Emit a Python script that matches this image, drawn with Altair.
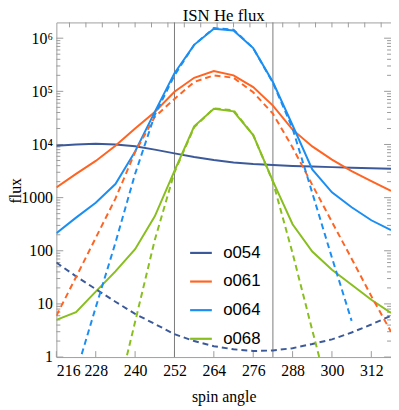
import altair as alt
import pandas as pd

# ---------------- data ----------------
angles = [216, 222, 228, 234, 240, 246, 252, 258, 264, 270, 276, 282, 288, 294, 300, 306, 312, 318]

o054_solid = [9500, 10000, 10300, 10000, 9300, 8000, 6800, 5800, 5100, 4600, 4300, 4100, 3950, 3850, 3750, 3650, 3580, 3500]
o054_dashed = [60, 33, 19, 11, 6.5, 4.2, 2.7, 2.0, 1.6, 1.4, 1.3, 1.33, 1.47, 1.76, 2.15, 2.9, 4.1, 6.0]

o061_solid = [1560, 2800, 4900, 9500, 20000, 41000, 98000, 180000, 240000, 200000, 120000, 54000, 19000, 9200, 5200, 3150, 2050, 1340]
o061_dashed = [6, 32, 175, 960, 7200, 33000, 72000, 150000, 200000, 180000, 96000, 38000, 8800, 1740, 350, 71, 14, 3.0]

o064_solid = [215, 420, 800, 1800, 7400, 41000, 220000, 750000, 1500000, 1400000, 650000, 150000, 23000, 3400, 1260, 660, 375, 245]
o064_dashed_angles = [222, 228, 234, 240, 246, 252, 258, 264, 270, 276, 282, 288, 294, 300, 306]
o064_dashed = [0.5, 8.6, 141, 2800, 36000, 200000, 750000, 1550000, 1450000, 650000, 145000, 20000, 1230, 74, 4.8]

o068_solid = [5.0, 7.0, 17, 41, 107, 445, 3200, 22000, 47000, 42000, 15000, 2050, 316, 97, 44, 23, 12, 6.8]
o068_dashed_angles = [234, 240, 246, 252, 258, 264, 270, 276, 282, 288, 294, 300]
o068_dashed = [0.135, 4.6, 160, 3000, 21000, 48000, 44000, 15000, 2000, 90, 3.2, 0.12]

series_names = ["o054", "o061", "o064", "o068"]
series_colors = ["#3C5A9A", "#FF6422", "#1A8EF2", "#88BE1E"]

chart_title = "ISN He flux"
x_labels = [216, 228, 240, 252, 264, 276, 288, 300, 312]
top_ticks = [220, 225, 230, 235, 240, 245, 250, 255, 260, 265, 270, 275, 280, 285, 290, 295, 300, 305, 310, 315]
y_major = [1, 10, 100, 1000, 10000, 100000, 1000000]
y_minor = [m * 10 ** k for k in range(6) for m in range(2, 10)]
marker_lines = [252, 282]

# ---------------- tables ----------------
solid_rows = []
for name, vals in zip(series_names, [o054_solid, o061_solid, o064_solid, o068_solid]):
    for a, v in zip(angles, vals):
        solid_rows.append({"a": a, "v": v, "s": name})
solid_df = pd.DataFrame(solid_rows)

dashed_rows = []
for name, angs, vals in zip(series_names,
                            [angles, angles, o064_dashed_angles, o068_dashed_angles],
                            [o054_dashed, o061_dashed, o064_dashed, o068_dashed]):
    for a, v in zip(angs, vals):
        dashed_rows.append({"a": a, "v": v, "s": name})
dashed_df = pd.DataFrame(dashed_rows)

W, H = 339, 339
SERIF = "Liberation Serif"

xs = alt.Scale(domain=[216, 318], nice=False, zero=False)
ys = alt.Scale(type="log", domain=[1, 1.98e6], nice=False)

x_axis = alt.Axis(values=x_labels, title="spin angle", ticks=False, domain=False, grid=False,
                  labelPadding=6, labelFontSize=16, labelFont=SERIF, labelColor="black",
                  titleFont=SERIF, titleFontSize=16, titleFontWeight="normal", titleColor="black",
                  titleY=32, labelOverlap=False)
y_axis = alt.Axis(values=y_major, title="flux", ticks=False, domain=False, grid=False,
                  labelPadding=4, labelFontSize=16, labelFont=SERIF, labelColor="black",
                  labelExpr="datum.value >= 900000 ? '10⁶' : datum.value >= 90000 ? '10⁵' : datum.value >= 9000 ? '10⁴' : format(datum.value, 'd')",
                  titleFont=SERIF, titleFontSize=16, titleFontWeight="normal", titleColor="black",
                  titleX=-33, titleY=170, labelOverlap=False)


def X(field="a"):
    return alt.X(f"{field}:Q", scale=xs, axis=x_axis)


def Y(field="v"):
    return alt.Y(f"{field}:Q", scale=ys, axis=y_axis)


color_scale = alt.Scale(domain=series_names, range=series_colors)
legend = alt.Legend(orient="none", legendX=134, legendY=221, title=None,
                    symbolType="stroke", symbolSize=484, symbolStrokeWidth=2.2,
                    labelFont="Liberation Sans", labelFontSize=17, labelColor="black",
                    labelOffset=10, rowPadding=8, padding=0, labelLimit=200)

solid = alt.Chart(solid_df).mark_line(strokeWidth=2, clip=True).encode(
    x=X(), y=Y(), color=alt.Color("s:N", scale=color_scale, legend=legend, sort=series_names)
)
dashed = alt.Chart(dashed_df).mark_line(strokeWidth=2, strokeDash=[6, 4], clip=True).encode(
    x=X(), y=Y(), color=alt.Color("s:N", scale=color_scale, legend=None, sort=series_names)
)

vlines = alt.Chart(pd.DataFrame({"a": marker_lines})).mark_rule(color="#7a7a7a", strokeWidth=1).encode(
    x=X(), y=alt.value(0), y2=alt.value(H)
)

tick_color = "#9a9a9a"
ymaj_df = pd.DataFrame({"v": y_major})
ymin_df = pd.DataFrame({"v": y_minor})
left_major = alt.Chart(ymaj_df).mark_rule(color=tick_color).encode(y=Y(), x=alt.value(0), x2=alt.value(7))
left_minor = alt.Chart(ymin_df).mark_rule(color=tick_color).encode(y=Y(), x=alt.value(0), x2=alt.value(4))
right_major = alt.Chart(ymaj_df).mark_rule(color=tick_color).encode(y=Y(), x=alt.value(W), x2=alt.value(W - 7))
right_minor = alt.Chart(ymin_df).mark_rule(color=tick_color).encode(y=Y(), x=alt.value(W), x2=alt.value(W - 4))
bottom_ticks = alt.Chart(pd.DataFrame({"a": x_labels})).mark_rule(color=tick_color).encode(
    x=X(), y=alt.value(H), y2=alt.value(H - 6))
top_t = alt.Chart(pd.DataFrame({"a": top_ticks})).mark_rule(color=tick_color).encode(
    x=X(), y=alt.value(0), y2=alt.value(5))

title_mark = alt.Chart(pd.DataFrame({"t": [chart_title]})).mark_text(
    font=SERIF, fontSize=17, color="black", align="center", baseline="alphabetic"
).encode(text="t:N", x=alt.value(W / 2), y=alt.value(-1))

chart = alt.layer(
    left_major, left_minor, right_major, right_minor, bottom_ticks, top_t,
    vlines, solid, dashed, title_mark
).properties(
    width=W, height=H,
    padding={"left": 49, "top": 12, "right": 0, "bottom": 50},
    autosize="none",
).configure_view(stroke="#a0a0a0", strokeWidth=1)

chart.save("out.html", embed_options={"renderer": "svg", "actions": False})
